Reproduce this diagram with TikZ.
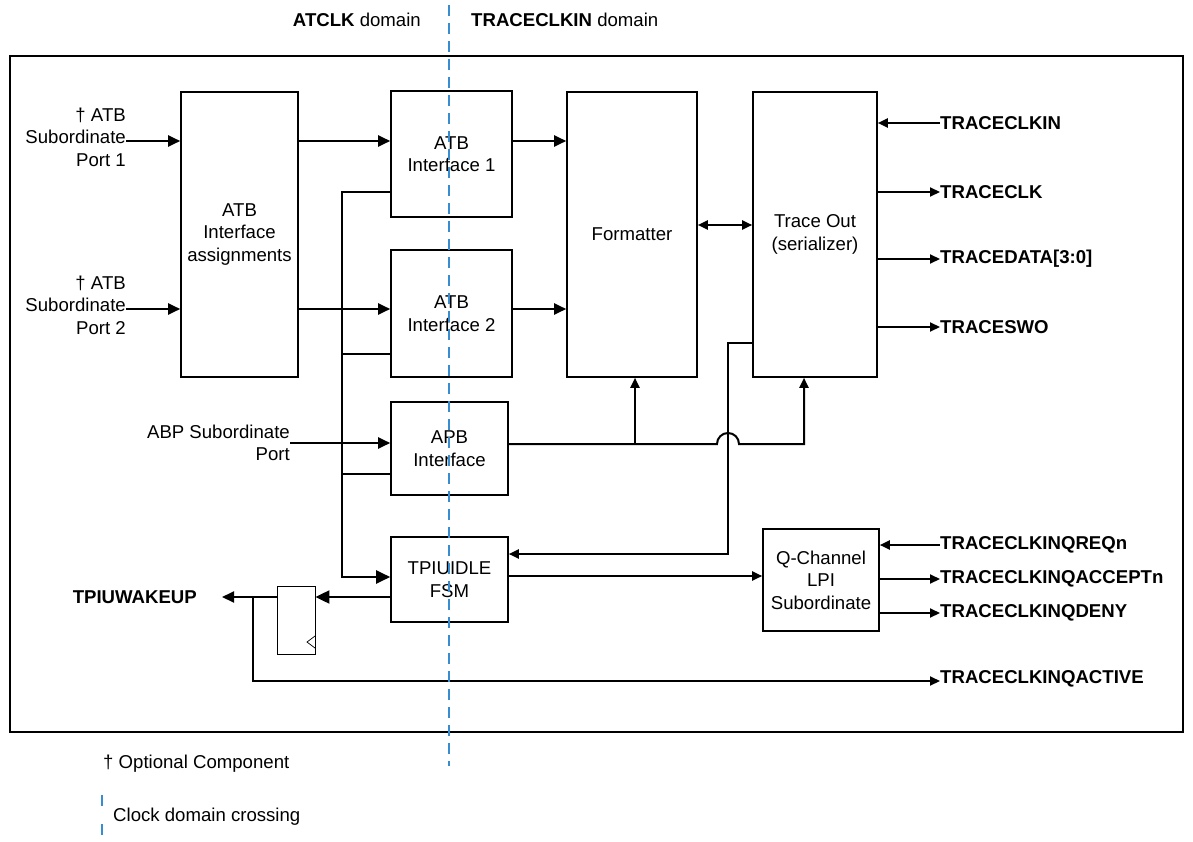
\documentclass[tikz,border=0pt]{standalone}
\usepackage{fontspec}
\setmainfont{Liberation Sans}
\usetikzlibrary{arrows.meta}
\definecolor{cdcblue}{RGB}{56,140,208}
\begin{document}
\begin{tikzpicture}[x=1pt,y=-1pt,
  every node/.style={font=\fontsize{18.6}{22.5}\selectfont},
  blk/.style={draw, line width=1.6pt, align=center, inner sep=0pt},
  lbl/.style={inner sep=0pt, align=right},
  sig/.style={inner sep=0pt, anchor=west, font=\fontsize{18.6}{22.5}\selectfont\bfseries},
  wire/.style={line width=2pt},
  arr/.style={wire, -{Triangle[length=12pt,width=11pt]}},
  barr/.style={wire, -{Triangle[length=14pt,width=13pt]}},
  sarr/.style={wire, -{Triangle[length=10pt,width=9pt]}},
  cdc/.style={draw=cdcblue, line width=1.3pt, dash pattern=on 11pt off 7pt}]
\useasboundingbox (0,0) rectangle (1193,842);
% outer frame
\draw[line width=1.3pt] (10,56) rectangle (1183,732);
% top labels
\node[inner sep=0pt, anchor=east] (atclk) at (421,20) {\textbf{ATCLK} domain};
\node[inner sep=0pt, anchor=west] (tclk) at (471,20) {\textbf{TRACECLKIN} domain};
% blocks
\node[blk, minimum width=117pt, minimum height=285pt] (assign) at (239.5,234.5) {ATB\\Interface\\assignments};
\node[blk, minimum width=121pt, minimum height=126pt] (int1) at (451.5,154) {ATB\\Interface 1};
\node[blk, minimum width=121pt, minimum height=127pt] (int2) at (451.5,313.5) {ATB\\Interface 2};
\node[blk, minimum width=117pt, minimum height=93pt] (apb) at (449.5,448.5) {APB\\Interface};
\node[blk, minimum width=117pt, minimum height=85pt] (fsm) at (449.5,579.5) {TPIUIDLE\\FSM};
\node[blk, minimum width=130pt, minimum height=285pt] (fmt) at (632,234.5) {Formatter};
\node[blk, minimum width=124pt, minimum height=285pt] (tout) at (815,234.5) {Trace Out\\(serializer)};
\node[blk, minimum width=116pt, minimum height=102pt] (qch) at (821,580) {Q-Channel\\LPI\\Subordinate};
\node[draw, line width=0.8pt, minimum width=38pt, minimum height=68pt, inner sep=0pt] (ff) at (296,620) {};
\draw[line width=0.7pt] (315,636) -- (307,642) -- (315,648);
% input labels
\node[lbl, anchor=east] (p1) at (126,137) {† ATB\\Subordinate\\Port 1};
\node[lbl, anchor=east] (p2) at (126,305) {† ATB\\Subordinate\\Port 2};
\node[lbl, anchor=east] (apbp) at (290,443) {ABP Subordinate\\Port};
% right signals
\node[sig] (sclkin) at (940,123) {TRACECLKIN};
\node[sig] (sclk) at (940,192) {TRACECLK};
\node[sig] (sdata) at (940,259) {TRACEDATA[3:0]};
\node[sig] (sswo) at (940,327) {TRACESWO};
\node[sig] (sreq) at (940,545) {TRACECLKINQREQn};
\node[sig] (sacc) at (940,579) {TRACECLKINQACCEPTn};
\node[sig] (sdeny) at (940,613) {TRACECLKINQDENY};
\node[sig] (sact) at (940,679) {TRACECLKINQACTIVE};
\node[sig, anchor=east] (wake) at (197,597) {TPIUWAKEUP};
\coordinate (wakeend) at (222,597);
% connectors left
\draw[arr] (p1.east |- 0,141) -- (assign.west |- 0,141);
\draw[arr] (p2.east |- 0,309) -- (assign.west |- 0,309);
\draw[arr] (assign.east |- 0,141) -- (int1.west |- 0,141);
\draw[arr] (assign.east |- 0,309) -- (int2.west |- 0,309);
\draw[arr] (apbp.east |- 0,443) -- (apb.west |- 0,443);
\draw[arr] (int1.east |- 0,141) -- (fmt.west |- 0,141);
\draw[arr] (int2.east |- 0,309) -- (fmt.west |- 0,309);
\draw[wire, {Triangle[length=10pt,width=9pt]}-{Triangle[length=10pt,width=9pt]}] (fmt.east |- 0,225) -- (tout.west |- 0,225);
% bus
\draw[barr] (int1.west |- 0,192) -- (342,192) -- (342,577) -- (fsm.west |- 0,577);
\draw[wire] (int2.west |- 0,354) -- (342,354);
\draw[wire] (apb.west |- 0,474) -- (342,474);
% APB outputs
\draw[sarr] (apb.east |- 0,444) -- (717,444) arc[start angle=180, end angle=360, radius=11] -- (804,444) -- (tout.south -| 804,0);
\draw[sarr] (635,444) -- (fmt.south -| 635,0);
% trace out to fsm
\draw[sarr] (tout.west |- 0,343) -- (728,343) -- (728,554) -- (fsm.east |- 0,554);
% fsm to q
\draw[sarr] (fsm.east |- 0,576) -- (qch.west |- 0,576);
% trace out signals
\draw[sarr] (sclkin.west) -- (tout.east |- sclkin.west);
\draw[sarr] (tout.east |- sclk.west) -- (sclk.west);
\draw[sarr] (tout.east |- sdata.west) -- (sdata.west);
\draw[sarr] (tout.east |- sswo.west) -- (sswo.west);
% q signals
\draw[sarr] (sreq.west) -- (qch.east |- sreq.west);
\draw[sarr] (qch.east |- sacc.west) -- (sacc.west);
\draw[sarr] (qch.east |- sdeny.west) -- (sdeny.west);
% fsm to ff and wakeup
\draw[barr] (fsm.west |- 0,597) -- (ff.east |- 0,597);
\draw[arr] (ff.west |- 0,597) -- (wakeend);
\draw[sarr] (253,597) -- (253,681) -- (sact.west |- 0,681);
% clock domain line
\draw[cdc] (449,5) -- (449,766);
% legend
\node[inner sep=0pt, anchor=west] (leg1) at (103,764) {† Optional Component};
\node[inner sep=0pt, anchor=west] (leg2) at (113,817) {Clock domain crossing};
\draw[cdc, dash pattern=on 11pt off 18pt] (102,795) -- (102,842);
\end{tikzpicture}
\end{document}
